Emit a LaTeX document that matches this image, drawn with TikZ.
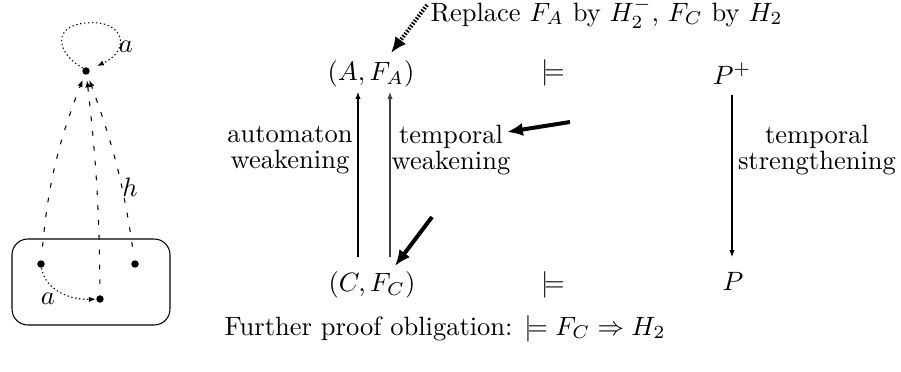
\documentclass[tikz,border=0pt]{standalone}
\usetikzlibrary{arrows.meta}
\begin{document}
\begin{tikzpicture}[x=0.377pt,y=-0.377pt,
  dot/.style={circle,fill=black,inner sep=0pt,minimum size=2.8pt},
  thin/.style={-{Latex[length=2.6pt,width=2pt]},line width=0.4pt},
  dashedarrow/.style={-{Latex[length=2.6pt,width=2pt]},dash pattern=on 1.8pt off 3.8pt,line width=0.4pt},
  dottedarrow/.style={-{Latex[length=2.6pt,width=2pt]},dash pattern=on 0.5pt off 1pt,line width=0.4pt},
  bigarrow/.style={-{Latex[length=6pt,width=5pt]},line width=1.5pt},
  lbl/.style={align=center,inner sep=0pt}]
\useasboundingbox (0,0) rectangle (901,372);
% left picture
\draw[rounded corners=6pt,line width=0.4pt] (12,239) rectangle (170,325);
\node[dot] (top) at (86,71) {};
\node[dot] (b1) at (41,264) {};
\node[dot] (b2) at (100,299) {};
\node[dot] (b3) at (135,264) {};
\draw[dottedarrow] (top.north west) .. controls (58,55) and (50,26) .. (86,23)
  .. controls (124,19) and (132,50) .. (97,66);
\node (la) at (126,47) {$a$};
\draw[dottedarrow] (b1) .. controls (45,290) and (70,300) .. (b2);
\node (lb) at (48,299) {$a$};
\draw[dashedarrow,shorten <=5pt,shorten >=2pt] (b1) to[bend left=8] (top);
\draw[dashedarrow,shorten <=4pt,shorten >=2pt] (b2) to[bend right=3] (top);
\draw[dashedarrow,shorten <=5pt,shorten >=2pt] (b3) to[bend right=6] (top);
\node (lh) at (130,187) {$h$};
% main diagram
\node (A) at (371,74) {$(A, F_A)$};
\node (m1) at (553,73) {$\models$};
\node (Pp) at (732,74) {$P^+$};
\node (C) at (372,285) {$(C, F_C)$};
\node (m2) at (553,285) {$\models$};
\node (P) at (733,281) {$P$};
\coordinate (a1s) at (358,257);
\coordinate (a1e) at (358,92);
\coordinate (a2s) at (390,257);
\coordinate (a2e) at (390,92);
\coordinate (ds) at (732,95);
\coordinate (de) at (732,257);
\draw[thin] (a1s) -- (a1e);
\draw[thin,black!75] (a2s) -- (a2e);
\draw[thin] (ds) -- (de);
\node[lbl] (aw) at (290,150) {automaton\\[-2pt]weakening};
\node[lbl] (tw) at (451,150) {temporal\\[-2pt]weakening};
\node[lbl] (ts) at (817,150) {temporal\\[-2pt]strengthening};
\node[anchor=base west,inner sep=0pt] (rep) at (430,21) {Replace $F_A$ by $H_2^-$, $F_C$ by $H_2$};
\node[anchor=base] (fur) at (445,335) {Further proof obligation: $\models F_C \Rightarrow H_2$};
% thick pointers
\coordinate (r0) at (427,5);
\coordinate (r1) at (391,53);
\draw[bigarrow,dash pattern=on 0.6pt off 0.6pt] (r0) -- (r1);
\coordinate (t0) at (570,122);
\coordinate (t1) at (507,132);
\draw[bigarrow] (t0) -- (t1);
\coordinate (c0) at (432,217);
\coordinate (c1) at (395,266);
\draw[bigarrow] (c0) -- (c1);
\end{tikzpicture}
\end{document}
